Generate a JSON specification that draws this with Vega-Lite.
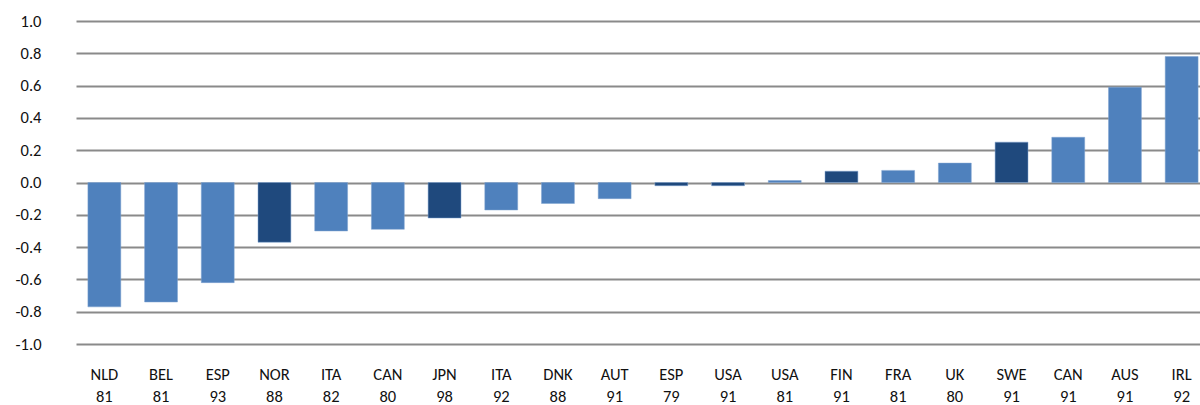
{
  "$schema": "https://vega.github.io/schema/vega-lite/v6.json",
  "width": 1124,
  "height": 323,
  "autosize": "none",
  "padding": {"left": 76, "top": 21, "right": 0, "bottom": 61},
  "background": "white",
  "config": {
    "view": {"stroke": null},
    "font": "Carlito, Lato",
    "axis": {"labelFont": "Carlito, Lato", "labelColor": "#111111"}
  },
  "data": {
    "values": [
      {"case": "NLD 81", "value": -0.77, "group": "other"},
      {"case": "BEL 81", "value": -0.74, "group": "other"},
      {"case": "ESP 93", "value": -0.62, "group": "other"},
      {"case": "NOR 88", "value": -0.37, "group": "dark"},
      {"case": "ITA 82", "value": -0.30, "group": "other"},
      {"case": "CAN 80", "value": -0.29, "group": "other"},
      {"case": "JPN 98", "value": -0.22, "group": "dark"},
      {"case": "ITA 92", "value": -0.17, "group": "other"},
      {"case": "DNK 88", "value": -0.13, "group": "other"},
      {"case": "AUT 91", "value": -0.10, "group": "other"},
      {"case": "ESP 79", "value": -0.02, "group": "dark"},
      {"case": "USA 91", "value": -0.02, "group": "dark"},
      {"case": "USA 81", "value": 0.012, "group": "other"},
      {"case": "FIN 91", "value": 0.07, "group": "dark"},
      {"case": "FRA 81", "value": 0.075, "group": "other"},
      {"case": "UK 80", "value": 0.12, "group": "other"},
      {"case": "SWE 91", "value": 0.25, "group": "dark"},
      {"case": "CAN 91", "value": 0.28, "group": "other"},
      {"case": "AUS 91", "value": 0.59, "group": "other"},
      {"case": "IRL 92", "value": 0.78, "group": "other"}
    ]
  },
  "mark": {"type": "bar", "stroke": "#7fa3d0", "strokeWidth": 0.5},
  "encoding": {
    "x": {
      "field": "case",
      "type": "nominal",
      "sort": null,
      "scale": {"range": [0, 1134], "paddingInner": 0.42, "paddingOuter": 0.21},
      "axis": {
        "title": null,
        "domain": false,
        "ticks": false,
        "labelAngle": 0,
        "labelFontSize": 16.5,
        "labelPadding": 22,
        "labelLineHeight": 22,
        "labelDx": -4,
        "labelExpr": "split(datum.label, ' ')"
      }
    },
    "y": {
      "field": "value",
      "type": "quantitative",
      "scale": {"domain": [-1, 1], "nice": false},
      "axis": {
        "title": null,
        "domain": false,
        "ticks": false,
        "values": [-1, -0.8, -0.6, -0.4, -0.2, 0, 0.2, 0.4, 0.6, 0.8, 1],
        "labelExpr": "datum.value < -0.001 ? '-' + format(-datum.value, '.1f') : format(abs(datum.value), '.1f')",
        "labelFontSize": 16.5,
        "labelPadding": 35,
        "grid": true,
        "gridColor": "#8a8a8a",
        "gridWidth": 2
      }
    },
    "color": {
      "field": "group",
      "type": "nominal",
      "scale": {"domain": ["other", "dark"], "range": ["#4f81bd", "#1f497d"]},
      "legend": null
    }
  }
}
